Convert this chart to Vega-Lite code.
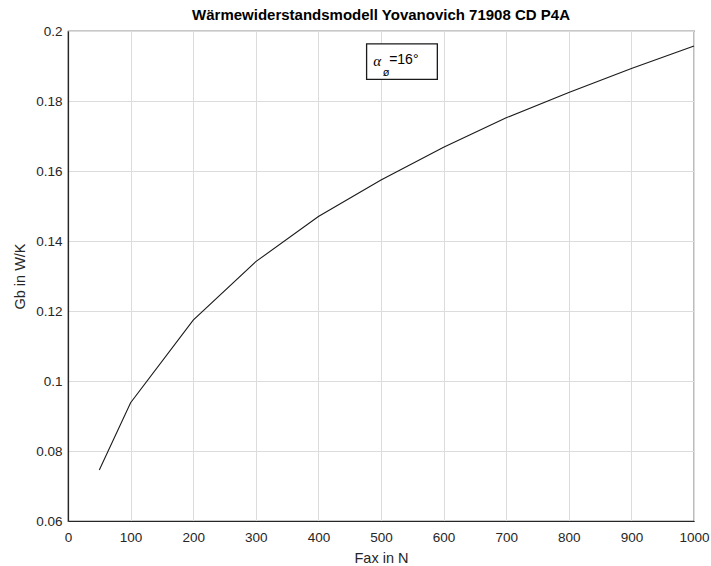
{
  "$schema": "https://vega.github.io/schema/vega-lite/v6.json",
  "width": 626,
  "height": 490,
  "autosize": {"type": "none"},
  "padding": {"left": 68, "top": 31, "right": 17, "bottom": 45},
  "background": "white",
  "config": {
    "font": "Liberation Sans",
    "view": {"stroke": "#262626", "strokeWidth": 1.2},
    "axis": {
      "domainColor": "#262626",
      "domainWidth": 1.2,
      "gridColor": "#dcdcdc",
      "gridWidth": 1,
      "tickSize": 0,
      "labelFont": "Liberation Sans",
      "labelFontSize": 13.5,
      "labelColor": "#262626",
      "titleFont": "Liberation Sans",
      "titleFontSize": 14.5,
      "titleFontWeight": "normal",
      "titleColor": "#262626"
    }
  },
  "title": {
    "text": "Wärmewiderstandsmodell Yovanovich 71908 CD P4A",
    "font": "Liberation Sans",
    "fontSize": 15,
    "fontWeight": "bold",
    "color": "#000000",
    "anchor": "middle",
    "offset": 1
  },
  "data": {
    "values": [
      {"Fax": 50, "Gb": 0.0746},
      {"Fax": 100, "Gb": 0.0938},
      {"Fax": 200, "Gb": 0.1174},
      {"Fax": 300, "Gb": 0.1341},
      {"Fax": 400, "Gb": 0.1470},
      {"Fax": 500, "Gb": 0.1574},
      {"Fax": 600, "Gb": 0.1668},
      {"Fax": 700, "Gb": 0.1752},
      {"Fax": 800, "Gb": 0.1824},
      {"Fax": 900, "Gb": 0.1893},
      {"Fax": 1000, "Gb": 0.1957}
    ]
  },
  "layer": [
    {
      "mark": {"type": "line", "color": "#1a1a1a", "strokeWidth": 1.1},
      "encoding": {
        "x": {
          "field": "Fax",
          "type": "quantitative",
          "scale": {"domain": [0, 1000], "nice": false, "zero": false},
          "axis": {
            "title": "Fax in N",
            "values": [0, 100, 200, 300, 400, 500, 600, 700, 800, 900, 1000],
            "format": "d",
            "labelPadding": 9,
            "titlePadding": 8,
            "labelFlush": false
          }
        },
        "y": {
          "field": "Gb",
          "type": "quantitative",
          "scale": {"domain": [0.06, 0.2], "nice": false, "zero": false},
          "axis": {
            "title": "Gb in W/K",
            "values": [0.06, 0.08, 0.1, 0.12, 0.14, 0.16, 0.18, 0.2],
            "labelExpr": "datum.value == 0.1 ? '0.1' : datum.value == 0.2 ? '0.2' : format(datum.value, '.2f')",
            "labelPadding": 6,
            "titlePadding": 8,
            "labelFlush": false
          }
        }
      }
    },
    {
      "data": {"values": [{"box": "annotation"}]},
      "mark": {"type": "rect", "fill": "white", "stroke": "#1a1a1a", "strokeWidth": 1.3},
      "encoding": {
        "x": {"datum": 477, "type": "quantitative"},
        "x2": {"datum": 590},
        "y": {"datum": 0.1963, "type": "quantitative"},
        "y2": {"datum": 0.1862}
      }
    },
    {
      "data": {"values": [{"label": "α"}]},
      "mark": {"type": "text", "font": "Liberation Serif", "fontStyle": "italic", "fontSize": 15, "align": "center", "baseline": "middle", "color": "#000000"},
      "encoding": {
        "x": {"datum": 494, "type": "quantitative"},
        "y": {"datum": 0.1914, "type": "quantitative"},
        "text": {"field": "label"}
      }
    },
    {
      "data": {"values": [{"label": "ø"}]},
      "mark": {"type": "text", "font": "Liberation Sans", "fontSize": 11, "align": "center", "baseline": "middle", "color": "#000000"},
      "encoding": {
        "x": {"datum": 508, "type": "quantitative"},
        "y": {"datum": 0.1880, "type": "quantitative"},
        "text": {"field": "label"}
      }
    },
    {
      "data": {"values": [{"label": "=16°"}]},
      "mark": {"type": "text", "font": "Liberation Sans", "fontSize": 14, "align": "left", "baseline": "middle", "color": "#000000"},
      "encoding": {
        "x": {"datum": 513, "type": "quantitative"},
        "y": {"datum": 0.1916, "type": "quantitative"},
        "text": {"field": "label"}
      }
    }
  ]
}
